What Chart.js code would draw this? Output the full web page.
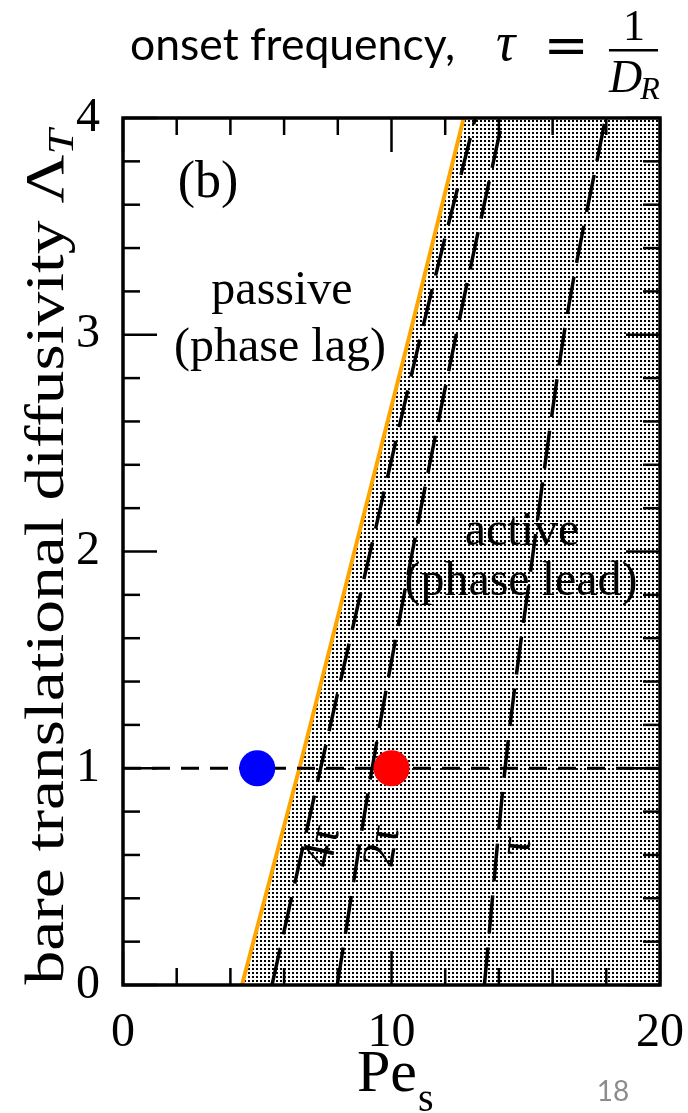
<!DOCTYPE html>
<html><head><meta charset="utf-8">
<script src="https://cdn.jsdelivr.net/npm/chart.js@4.4.1/dist/chart.umd.min.js"></script>
<style>html,body{margin:0;padding:0;background:#fff;}canvas{display:block;}</style>
</head><body>
<canvas id="c" width="688" height="1113"></canvas>
<script>
// ---- data ----
const lambdaLevels = [0, 1, 2, 3, 4];
const boundaryPe = [4.43, 6.57, 8.62, 10.68, 12.69];   // orange onset boundary
const tau4Pe = [5.55, 7.36, 9.21, 11.10, 13.12];       // 4τ dashed
const tau2Pe = [7.98, 9.28, 10.78, 12.41, 14.15];      // 2τ dashed
const tau1Pe = [13.46, 14.23, 15.28, 16.42, 17.97];    // τ dashed
const markerPe = [5, 10];
const markerLambda = [1, 1];
const refLinePe = [0, 20];
const refLineLambda = [1, 1];
const xTickLabels = ['0', '10', '20'];
const yTickLabels = ['0', '1', '2', '3', '4'];
const curveLabels = ['4τ', '2τ', 'τ'];
const regionLabels = ['passive', '(phase lag)', 'active', '(phase lead)'];

function pts(xs, ys) { return xs.map((v, i) => ({x: v, y: ys[i]})); }

const canvas = document.getElementById('c');
const ctx = canvas.getContext('2d');

function makeDots() {
  const c = document.createElement('canvas');
  c.width = 4; c.height = 4;
  const g = c.getContext('2d');
  g.fillStyle = '#fff'; g.fillRect(0, 0, 4, 4);
  g.fillStyle = '#000';
  g.fillRect(0, 0, 2, 2);
  return ctx.createPattern(c, 'repeat');
}
const dots = makeDots();

function isInt(v) { return Math.abs(v - Math.round(v)) < 1e-6; }
function interp(xs, ys, y) {
  for (let i = 0; i < ys.length - 1; i++) {
    if (y >= ys[i] && y <= ys[i+1]) { const t = (y - ys[i]) / (ys[i+1] - ys[i]); return xs[i] + t * (xs[i+1] - xs[i]); }
  }
  return xs[0];
}

const SERIF = '"Liberation Serif", "Times New Roman", serif';

const framePlugin = {
  id: 'frame',
  afterDatasetsDraw(ch) {
    const {ctx, chartArea: a, scales: {x, y}} = ch;
    ctx.save();
    // region labels
    ctx.fillStyle = '#000';
    ctx.textAlign = 'center';
    ctx.textBaseline = 'alphabetic';
    ctx.font = '52px ' + SERIF;
    ctx.fillText('(b)', 208, 197);
    ctx.font = '48px ' + SERIF;
    ctx.fillText(regionLabels[0], 282, 304);
    ctx.fillText(regionLabels[1], 280, 361);
    ctx.fillText(regionLabels[2], 522, 545);
    ctx.fillText(regionLabels[3], 521, 595);
    // curve labels (rotated along their lines)
    const lines = [tau4Pe, tau2Pe, tau1Pe];
    const offs = [20, 24, 20];
    const lam = 0.64;
    lines.forEach((arr, i) => {
      const px = x.getPixelForValue(interp(arr, lambdaLevels, lam)) + offs[i];
      const py = y.getPixelForValue(lam);
      const p1x = x.getPixelForValue(interp(arr, lambdaLevels, 0)), p1y = y.getPixelForValue(0);
      const p2x = x.getPixelForValue(interp(arr, lambdaLevels, 2)), p2y = y.getPixelForValue(2);
      const ang = Math.atan2(p2y - p1y, p2x - p1x);
      ctx.save();
      ctx.translate(px, py);
      ctx.rotate(ang);
      ctx.font = '46px ' + SERIF;
      ctx.textBaseline = 'middle';
      ctx.fillText(curveLabels[i], 0, 0);
      ctx.restore();
    });
    // ticks, inward on all four sides
    ctx.strokeStyle = '#000';
    ctx.lineWidth = 2.5;
    const seg = (x1, y1, x2, y2) => { ctx.beginPath(); ctx.moveTo(x1, y1); ctx.lineTo(x2, y2); ctx.stroke(); };
    x.ticks.forEach(t => {
      const p = x.getPixelForValue(t.value);
      const L = isInt(t.value / 10) ? 34 : 17;
      seg(p, a.bottom, p, a.bottom - L);
      seg(p, a.top, p, a.top + L);
    });
    y.ticks.forEach(t => {
      const p = y.getPixelForValue(t.value);
      const L = isInt(t.value) ? 34 : 17;
      seg(a.left, p, a.left + L, p);
      seg(a.right, p, a.right - L, p);
    });
    ctx.lineWidth = 3.5;
    ctx.strokeRect(a.left, a.top, a.right - a.left, a.bottom - a.top);
    ctx.restore();
  }
};

const textPlugin = {
  id: 'texts',
  afterDraw(ch) {
    const ctx = ch.ctx;
    ctx.save();
    ctx.fillStyle = '#000';
    ctx.textBaseline = 'alphabetic';
    // title
    ctx.textAlign = 'left';
    let fs = 48;
    ctx.font = fs + 'px Lato, "Open Sans", sans-serif';
    const tw = ctx.measureText('onset frequency,').width;
    fs = fs * 325 / tw;
    ctx.font = fs.toFixed(1) + 'px Lato, "Open Sans", sans-serif';
    ctx.fillText('onset frequency,', 130, 60);
    ctx.font = 'italic 54px ' + SERIF;
    ctx.fillText('τ', 496, 60);
    ctx.font = '54px "DejaVu Serif", serif';
    ctx.textAlign = 'center';
    ctx.fillText('=', 566, 64);
    ctx.font = '44px ' + SERIF;
    ctx.fillText('1', 634, 40);
    ctx.fillRect(609, 49, 49, 2.5);
    ctx.textAlign = 'left';
    ctx.font = 'italic 46px ' + SERIF;
    ctx.fillText('D', 609, 92);
    const dw = ctx.measureText('D').width;
    ctx.font = 'italic 32px ' + SERIF;
    ctx.fillText('R', 609 + dw - 2, 99);

    // y-axis title (rotated)
    ctx.save();
    ctx.translate(63, 557);
    ctx.rotate(-Math.PI / 2);
    ctx.font = '54px ' + SERIF;
    const main = 'bare translational diffusivity Λ';
    const mw = ctx.measureText(main).width;
    ctx.font = 'italic 36px ' + SERIF;
    const sw = ctx.measureText('T').width;
    const total = mw + sw;
    const target = 855;
    ctx.scale(target / total, 1);
    ctx.font = '54px ' + SERIF;
    ctx.textAlign = 'left';
    ctx.fillText(main, -total / 2, 0);
    ctx.font = 'italic 36px ' + SERIF;
    ctx.fillText('T', -total / 2 + mw, 10);
    ctx.restore();

    // x-axis title
    ctx.textAlign = 'left';
    ctx.font = '60px ' + SERIF;
    const pw = ctx.measureText('Pe').width;
    ctx.fillText('Pe', 357, 1091);
    ctx.font = '40px ' + SERIF;
    ctx.fillText('s', 357 + pw + 1, 1111);

    // page number
    ctx.fillStyle = '#8c8c8c';
    ctx.font = '28px Lato, "Open Sans", sans-serif';
    ctx.textAlign = 'center';
    ctx.fillText('18', 613, 1101);
    ctx.restore();
  }
};

new Chart(ctx, {
  type: 'line',
  data: {
    datasets: [
      { label: 'active region', data: [...pts(boundaryPe, lambdaLevels), {x: 20, y: 4}],
        fill: 'origin', backgroundColor: dots, borderColor: 'rgba(0,0,0,0)', borderWidth: 0, pointRadius: 0, order: 10 },
      { label: 'τ', data: pts(tau1Pe, lambdaLevels), borderColor: '#000', borderWidth: 3.5, borderDash: [38, 14],
        pointRadius: 0, fill: false, cubicInterpolationMode: 'monotone', order: 6 },
      { label: '2τ', data: pts(tau2Pe, lambdaLevels), borderColor: '#000', borderWidth: 3.5, borderDash: [38, 14],
        pointRadius: 0, fill: false, cubicInterpolationMode: 'monotone', order: 5 },
      { label: '4τ', data: pts(tau4Pe, lambdaLevels), borderColor: '#000', borderWidth: 3.5, borderDash: [38, 14],
        pointRadius: 0, fill: false, cubicInterpolationMode: 'monotone', order: 4 },
      { label: 'onset', data: pts(boundaryPe, lambdaLevels), borderColor: '#FFA500', borderWidth: 4,
        pointRadius: 0, fill: false, order: 3 },
      { label: 'Λ=1', data: pts(refLinePe, refLineLambda), borderColor: '#000', borderWidth: 2.8, borderDash: [18, 11],
        pointRadius: 0, fill: false, order: 2 },
      { label: 'passive point', data: [{x: markerPe[0], y: markerLambda[0]}], showLine: false,
        pointRadius: 18, pointBackgroundColor: '#0000FF', pointBorderWidth: 0, borderColor: '#0000FF', order: 1 },
      { label: 'active point', data: [{x: markerPe[1], y: markerLambda[1]}], showLine: false,
        pointRadius: 18, pointBackgroundColor: '#FF0000', pointBorderWidth: 0, borderColor: '#FF0000', order: 0 }
    ]
  },
  options: {
    responsive: false, animation: false, devicePixelRatio: 1,
    layout: { padding: { top: 118, right: 28, left: 0, bottom: 0 } },
    plugins: { legend: { display: false }, tooltip: { enabled: false } },
    scales: {
      x: {
        type: 'linear', min: 0, max: 20,
        grid: { display: false }, border: { display: false },
        ticks: { stepSize: 2, autoSkip: false, maxRotation: 0, padding: 12, color: '#000',
          font: { family: 'Liberation Serif', size: 48 },
          callback: v => (isInt(v) && xTickLabels.includes(String(Math.round(v)))) ? String(Math.round(v)) : '' },
        afterFit: s => { s.height = 128; s.paddingLeft = 0; s.paddingRight = 0; }
      },
      y: {
        type: 'linear', min: 0, max: 4,
        grid: { display: false }, border: { display: false },
        ticks: { stepSize: 0.2, autoSkip: false, padding: 15, color: '#000',
          font: { family: 'Liberation Serif', size: 48 },
          callback: v => (isInt(v) && yTickLabels.includes(String(Math.round(v)))) ? String(Math.round(v)) : '' },
        afterFit: s => { s.width = 123; s.paddingTop = 0; s.paddingBottom = 0; }
      }
    }
  },
  plugins: [framePlugin, textPlugin]
});
</script>
</body></html>
